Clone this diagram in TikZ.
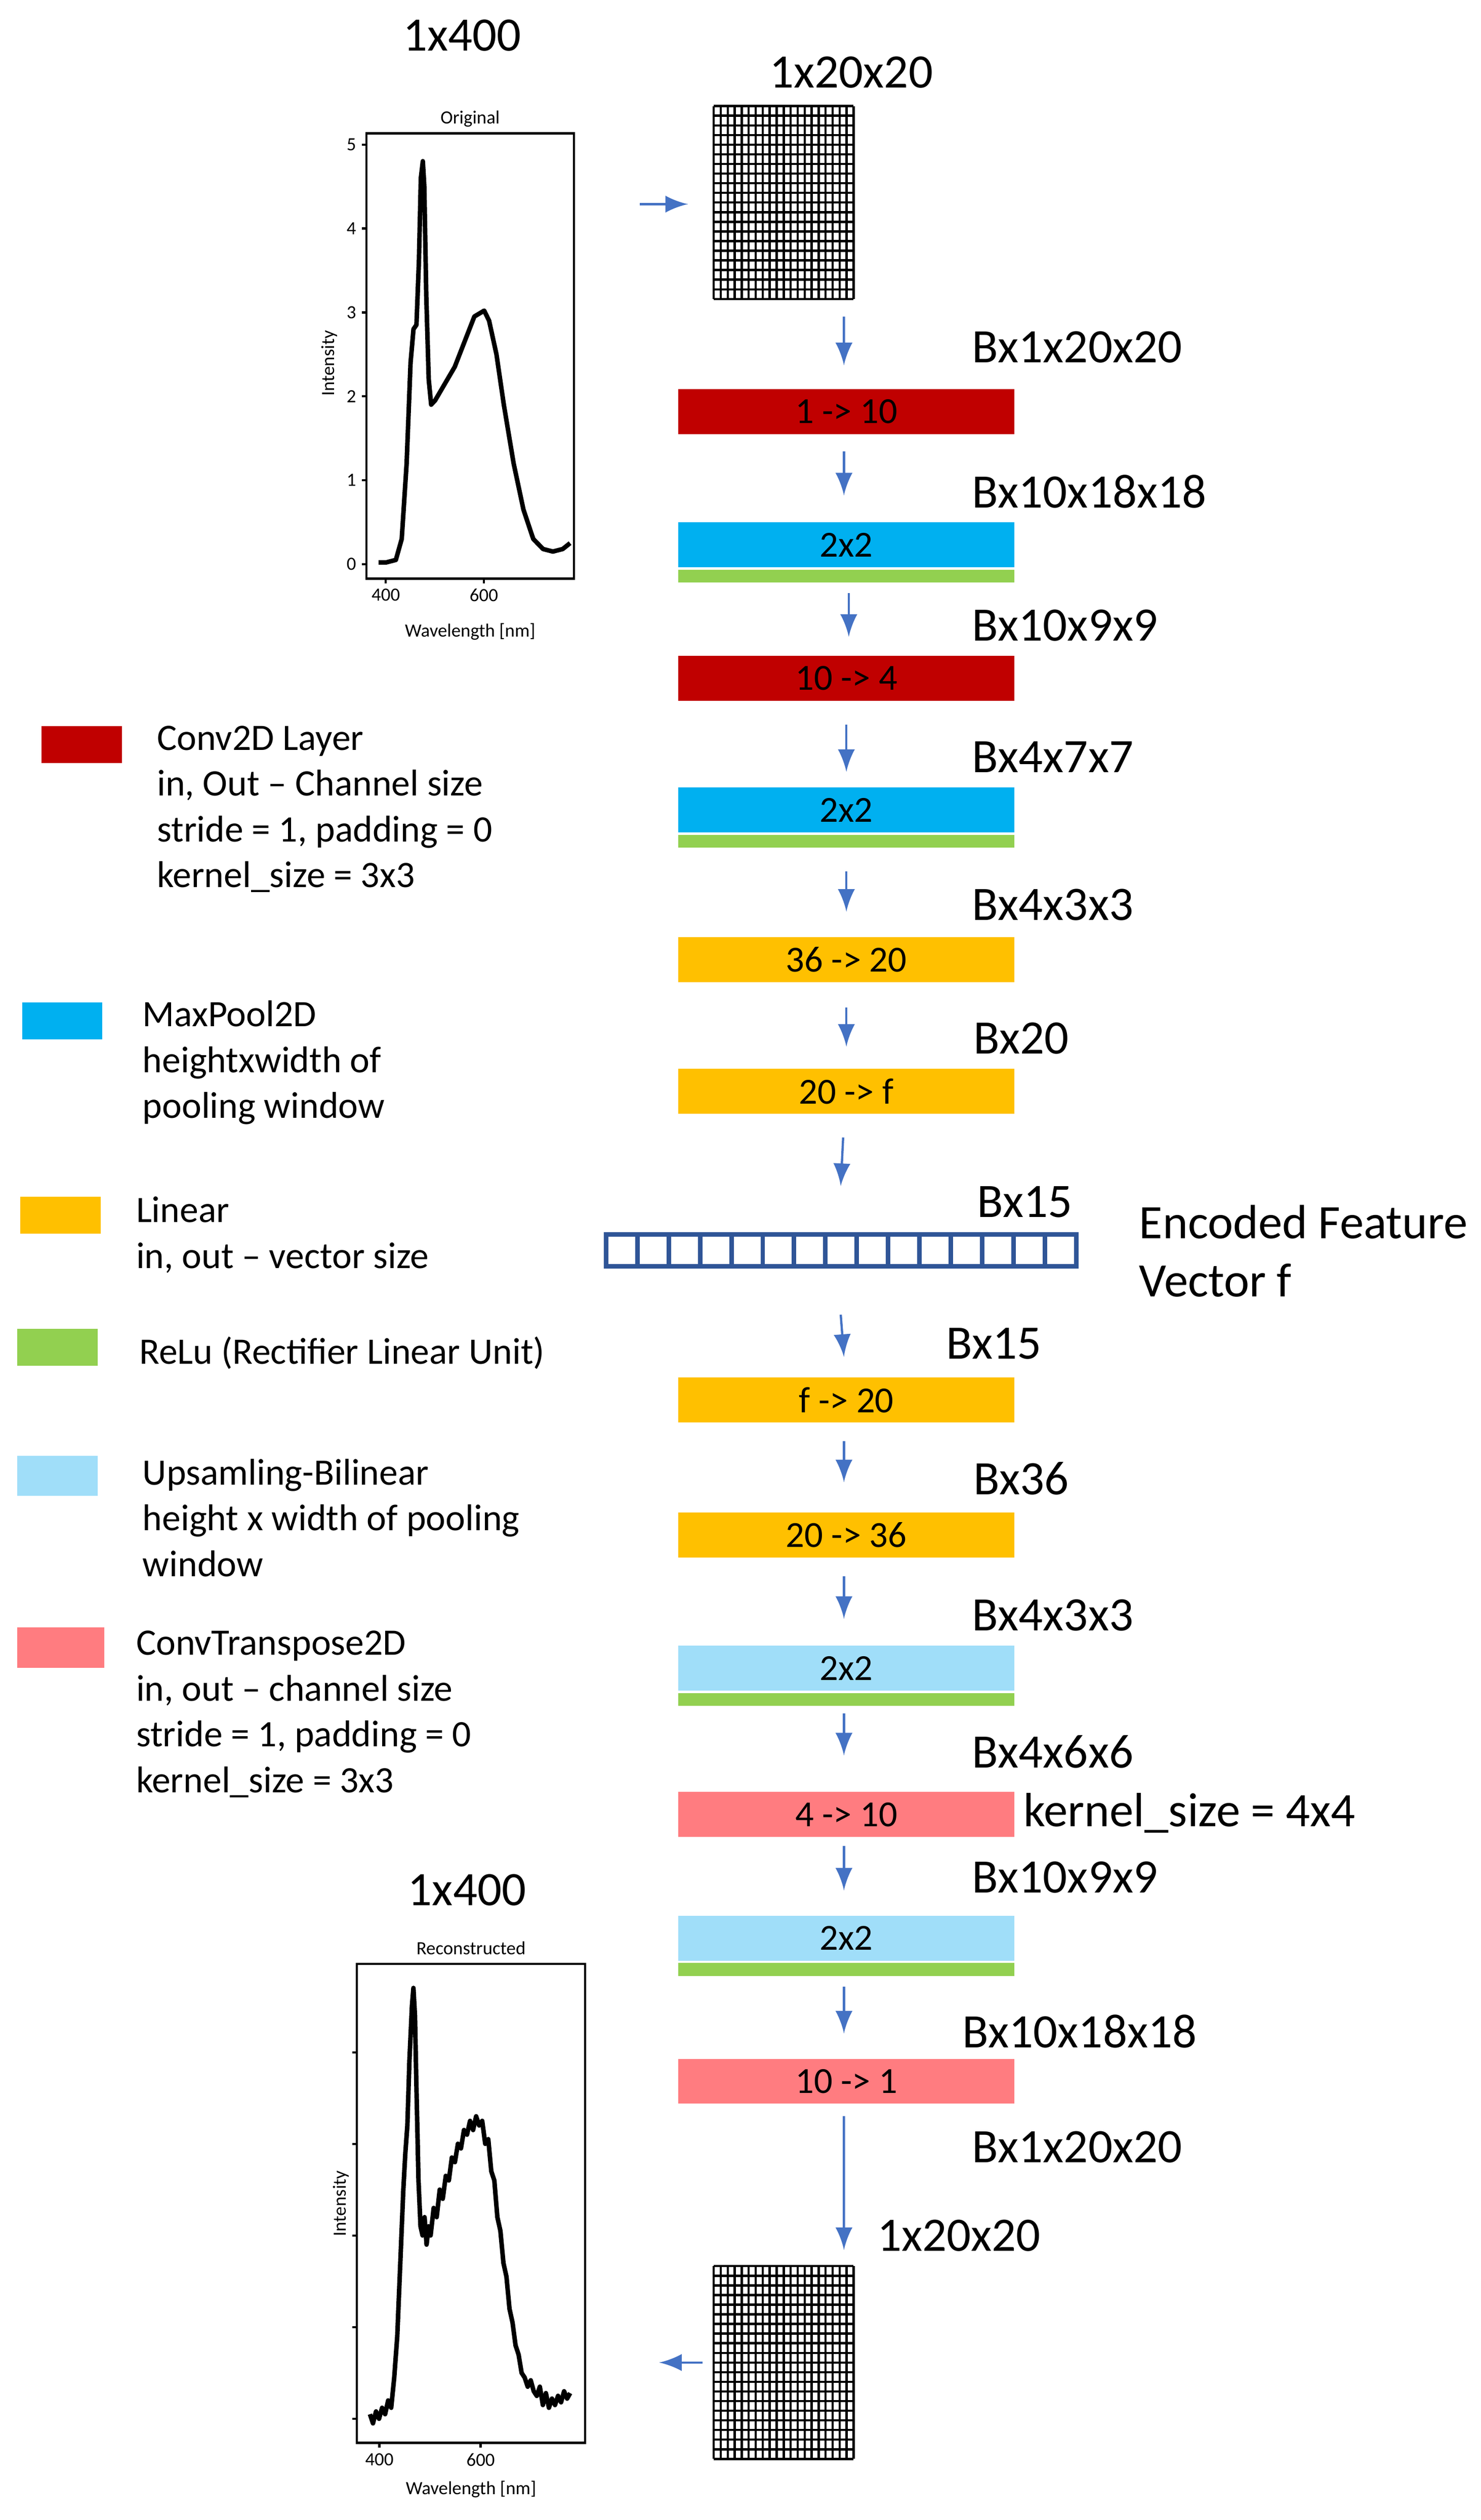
\documentclass[tikz,border=0pt]{standalone}
\usepackage{fontspec}
\setmainfont{Carlito}
\usetikzlibrary{positioning}
\definecolor{cconv}{HTML}{C00000}
\definecolor{cpool}{HTML}{00B0F0}
\definecolor{clin}{HTML}{FFC000}
\definecolor{crelu}{HTML}{92D050}
\definecolor{cup}{HTML}{A0DEF9}
\definecolor{ctrans}{HTML}{FF7C80}
\definecolor{carr}{HTML}{4472C4}
\definecolor{cvec}{HTML}{2F5597}
\tikzset{
  bar/.style={minimum width=2.09cm, minimum height=0.28cm, inner sep=0pt, font=\fontsize{6.5}{7}\selectfont},
  relu/.style={fill=crelu, minimum width=2.09cm, minimum height=0.08cm, inner sep=0pt},
  swatch/.style={minimum width=0.5cm, minimum height=0.23cm, inner sep=0pt},
  dim/.style={anchor=west, inner sep=0pt, font=\fontsize{8.5}{10}\selectfont},
  legend/.style={anchor=north west, inner sep=0pt, align=left, font=\fontsize{6.6}{8.1}\selectfont},
  arr/.style={-latex, carr, thin},
  tiny/.style={font=\fontsize{3.3}{4}\selectfont, inner sep=0.5pt}
}
\begin{document}
\begin{tikzpicture}[x=0.01cm, y=-0.01cm]
  \useasboundingbox (0,0) rectangle (921,1568);
  % encoder
  \node[bar, fill=cconv] (c1) at (526.5,256) {1 -> 10};
  \node[bar, fill=cpool] (p1) at (526.5,339) {2x2};
  \node[relu, below=0pt of p1] (r1) {};
  \node[bar, fill=cconv] (c2) at (526.5,422) {10 -> 4};
  \node[bar, fill=cpool] (p2) at (526.5,504) {2x2};
  \node[relu, below=0pt of p2] (r2) {};
  \node[bar, fill=clin] (l1) at (526.5,597) {36 -> 20};
  \node[bar, fill=clin] (l2) at (526.5,679) {20 -> f};
  % feature vector
  \foreach \i in {0,...,14}
    \draw[cvec, thick] (377+\i*19.5,768) rectangle (377+\i*19.5+19.5,788);
  \coordinate (fv) at (523,768);
  \coordinate (fvs) at (523,788);
  % decoder
  \node[bar, fill=clin] (l3) at (526.5,871) {f -> 20};
  \node[bar, fill=clin] (l4) at (526.5,955) {20 -> 36};
  \node[bar, fill=cup] (u1) at (526.5,1038) {2x2};
  \node[relu, below=0pt of u1] (r3) {};
  \node[bar, fill=ctrans] (t1) at (526.5,1129) {4 -> 10};
  \node[bar, fill=cup] (u2) at (526.5,1206) {2x2};
  \node[relu, below=0pt of u2] (r4) {};
  \node[bar, fill=ctrans] (t2) at (526.5,1295) {10 -> 1};
  % grids
  \foreach \gy in {66,1410}
    \foreach \i in {0,...,20}{
      \draw[thin] (444+\i*4.35,\gy) -- (444+\i*4.35,\gy+120);
      \draw[thin] (444,\gy+\i*6) -- (531,\gy+\i*6);
    }
  \coordinate (gin) at (525,197);
  \coordinate (gout) at (525,1400);
  % arrows
  \draw[arr] (gin) -- ([xshift=-0.015cm,yshift=0.14cm]c1.north);
  \draw[arr] ([xshift=-0.015cm,yshift=-0.1cm]c1.south) -- ([xshift=-0.015cm,yshift=0.16cm]p1.north);
  \draw[arr] ([xshift=0.015cm,yshift=-0.06cm]r1.south) -- ([xshift=0.015cm,yshift=0.11cm]c2.north);
  \draw[arr] ([yshift=-0.14cm]c2.south) -- ([yshift=0.09cm]p2.north);
  \draw[arr] ([yshift=-0.14cm]r2.south) -- ([yshift=0.15cm]l1.north);
  \draw[arr] ([yshift=-0.15cm]l1.south) -- ([yshift=0.13cm]l2.north);
  \draw[arr] ([xshift=-0.02cm,yshift=-0.14cm]l2.south) -- ([yshift=0.3cm]fv);
  \draw[arr] ([yshift=-0.3cm]fvs) -- ([xshift=-0.015cm,yshift=0.12cm]l3.north);
  \draw[arr] ([xshift=-0.015cm,yshift=-0.11cm]l3.south) -- ([xshift=-0.015cm,yshift=0.18cm]l4.north);
  \draw[arr] ([xshift=-0.015cm,yshift=-0.11cm]l4.south) -- ([xshift=-0.015cm,yshift=0.16cm]u1.north);
  \draw[arr] ([xshift=-0.015cm,yshift=-0.04cm]r3.south) -- ([xshift=-0.015cm,yshift=0.22cm]t1.north);
  \draw[arr] ([xshift=-0.015cm,yshift=-0.05cm]t1.south) -- ([xshift=-0.015cm,yshift=0.15cm]u2.north);
  \draw[arr] ([xshift=-0.015cm,yshift=-0.06cm]r4.south) -- ([xshift=-0.015cm,yshift=0.15cm]t2.north);
  \draw[arr] ([xshift=-0.015cm,yshift=-0.07cm]t2.south) -- (gout);
  \draw[arr] (398,127) -- (428,127);
  \draw[arr] (437,1470) -- (410,1470);
  % dimension labels
  \node[dim] (d0) at (604,216) {Bx1x20x20};
  \node[dim] (d1) at (604,306) {Bx10x18x18};
  \node[dim] (d2) at (604,389) {Bx10x9x9};
  \node[dim] (d3) at (604,471) {Bx4x7x7};
  \node[dim] (d4) at (604,563) {Bx4x3x3};
  \node[dim] (d5) at (605,646) {Bx20};
  \node[dim] (d6) at (607,748) {Bx15};
  \node[dim] (d7) at (588,836) {Bx15};
  \node[dim] (d8) at (605,920) {Bx36};
  \node[dim] (d9) at (604,1005) {Bx4x3x3};
  \node[dim] (d10) at (604,1090) {Bx4x6x6};
  \node[dim] (d11) at (604,1168) {Bx10x9x9};
  \node[dim] (d12) at (598,1264) {Bx10x18x18};
  \node[dim] (d13) at (604,1336) {Bx1x20x20};
  \node[dim] (d14) at (545,1391) {1x20x20};
  \node[dim] (d15) at (478,45) {1x20x20};
  \node[dim] (d16) at (250,22) {1x400};
  \node[dim] (d17) at (253,1176) {1x400};
  \node[dim] (d18) at (636,1128) {kernel\_size = 4x4};
  \node[anchor=north west, inner sep=0pt, align=left, font=\fontsize{8.5}{10.3}\selectfont] (enc) at (708,749) {Encoded Feature\\Vector f};
  % legend
  \node[swatch, fill=cconv, anchor=north west] (k1) at (25,451) {};
  \node[legend] (t1l) at (97,451) {Conv2D Layer\\in, Out -- Channel size\\stride = 1, padding = 0\\kernel\_size = 3x3};
  \node[swatch, fill=cpool, anchor=north west] (k2) at (13,623) {};
  \node[legend] (t2l) at (88,622) {MaxPool2D\\heightxwidth of\\pooling window};
  \node[swatch, fill=clin, anchor=north west] (k3) at (12,744) {};
  \node[legend] (t3l) at (84,744) {Linear\\in, out -- vector size};
  \node[swatch, fill=crelu, anchor=north west] (k4) at (10,826) {};
  \node[legend] (t4l) at (86,831) {ReLu (Rectifier Linear Unit)};
  \node[swatch, fill=cup, anchor=north west, minimum height=0.25cm] (k5) at (10,905) {};
  \node[legend] (t5l) at (88,907) {Upsamling-Bilinear\\height x width of pooling\\window};
  \node[swatch, fill=ctrans, anchor=north west, minimum width=0.54cm, minimum height=0.25cm] (k6) at (10,1012) {};
  \node[legend] (t6l) at (84,1014) {ConvTranspose2D\\in, out -- channel size\\stride = 1, padding = 0\\kernel\_size = 3x3};
  % original spectrum
  \draw[thin] (228,83) rectangle (357,360);
  \node[tiny] at (292.5,74) {Original};
  \foreach \v in {0,...,5}{
    \draw (228,351-\v*52.2) -- (225,351-\v*52.2);
    \node[tiny, anchor=east] at (224,351-\v*52.2) {\v};
  }
  \foreach \v in {400,600}{
    \draw (118+0.305*\v,360) -- (118+0.305*\v,363);
    \node[tiny, anchor=north] at (118+0.305*\v,364) {\v};
  }
  \node[tiny] at (292.5,393) {Wavelength [nm]};
  \node[tiny, rotate=90] at (205,226) {Intensity};
  \begin{scope}[shift={(118,351)}, x=0.00305cm, y=0.522cm]
    \draw[thick, line join=round] plot coordinates {(385,0.02)(400,0.02)(420,0.05)(432,0.3)(442,1.2)(450,2.4)(456,2.8)(462,2.85)(467,3.6)(471,4.6)(475,4.8)(478,4.5)(482,3.2)(487,2.2)(492,1.9)(500,1.95)(520,2.15)(540,2.35)(560,2.65)(580,2.95)(600,3.02)(610,2.9)(625,2.5)(640,1.9)(660,1.2)(680,0.65)(700,0.3)(720,0.18)(740,0.15)(760,0.18)(775,0.25)};
  \end{scope}
  % reconstructed spectrum
  \draw[thin] (222,1222) rectangle (364,1520);
  \node[tiny] at (293,1212) {Reconstructed};
  \foreach \v in {0,...,4}
    \draw (222,1505-\v*57) -- (219,1505-\v*57);
  \foreach \v in {400,600}{
    \draw (110+0.315*\v,1520) -- (110+0.315*\v,1523);
    \node[tiny, anchor=north] at (110+0.315*\v,1524) {\v};
  }
  \node[tiny] at (293,1549) {Wavelength [nm]};
  \node[tiny, rotate=90] at (212,1371) {Intensity};
  \begin{scope}[shift={(110,1505)}, x=0.00315cm, y=0.57cm]
    \draw[thick, line join=round] plot coordinates {(382,0.05)(388,-0.05)(394,0.08)(400,0)(406,0.12)(412,0.05)(418,0.2)(424,0.12)(430,0.45)(436,0.9)(442,1.7)(448,2.5)(452,2.9)(456,3.2)(460,3.9)(465,4.5)(468,4.7)(471,4.4)(474,3.6)(478,2.6)(482,2.1)(486,2.0)(490,2.2)(494,1.9)(498,2.1)(502,2.0)(508,2.3)(514,2.2)(520,2.5)(526,2.4)(532,2.65)(538,2.6)(544,2.85)(550,2.8)(556,3.0)(562,2.95)(568,3.15)(574,3.1)(580,3.25)(586,3.15)(592,3.3)(598,3.2)(604,3.25)(610,3.0)(616,3.05)(622,2.7)(628,2.6)(634,2.2)(640,2.05)(646,1.7)(652,1.55)(658,1.2)(664,1.05)(670,0.8)(676,0.7)(682,0.5)(688,0.45)(694,0.35)(700,0.42)(706,0.3)(712,0.25)(718,0.35)(724,0.15)(730,0.28)(736,0.12)(742,0.22)(748,0.15)(754,0.25)(760,0.18)(766,0.3)(772,0.22)(778,0.28)};
  \end{scope}
\end{tikzpicture}
\end{document}
